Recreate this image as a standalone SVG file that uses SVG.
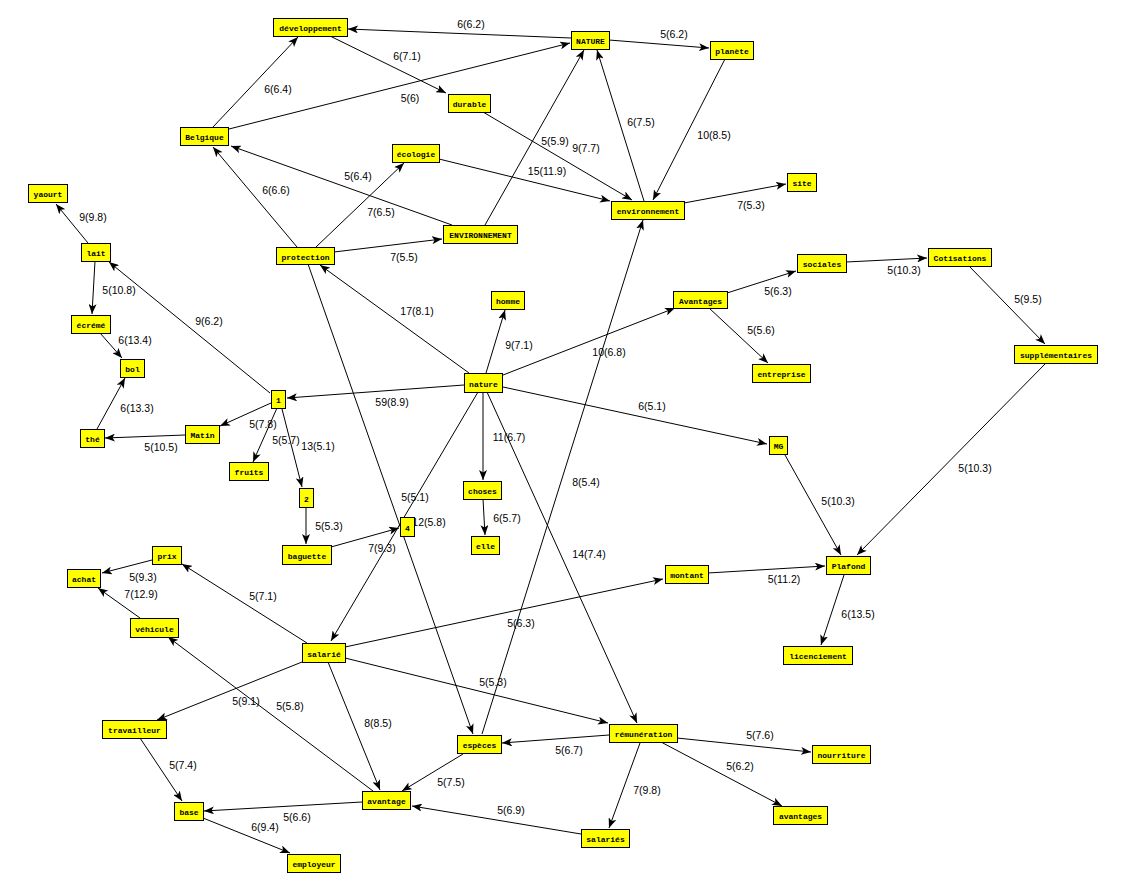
<svg xmlns="http://www.w3.org/2000/svg" width="1128" height="893" viewBox="0 0 1128 893">
<style>
.n rect{fill:#ffff00;stroke:#000;stroke-width:1}
.n text{font-family:"Liberation Mono","DejaVu Sans Mono",monospace;font-size:8px;font-weight:bold;text-anchor:middle;fill:#000}
#connectors line{stroke:#000;stroke-width:1;marker-end:url(#arr)}
#labels text{font-family:"Liberation Sans",Arial,sans-serif;font-size:10.5px;text-anchor:middle;fill:#000}
</style>
<defs>
<marker id="arr" markerUnits="userSpaceOnUse" markerWidth="10" markerHeight="8" refX="10" refY="4" orient="auto">
<path d="M0,0 L10,4 L0,8 L2.5,4 Z" fill="#000"/>
</marker>
</defs>
<rect width="1128" height="893" fill="#fff"/>
<g id="connectors">
<line x1="571" y1="38" x2="348" y2="29"/>
<line x1="330" y1="36" x2="446" y2="93"/>
<line x1="213" y1="127" x2="298" y2="37"/>
<line x1="229" y1="129" x2="570" y2="43"/>
<line x1="483" y1="112" x2="632" y2="200"/>
<line x1="485" y1="225" x2="584" y2="50"/>
<line x1="644" y1="201" x2="597" y2="50"/>
<line x1="609" y1="40" x2="709" y2="48"/>
<line x1="725" y1="59" x2="653" y2="200"/>
<line x1="439" y1="159" x2="610" y2="201"/>
<line x1="684" y1="203" x2="786" y2="184"/>
<line x1="452" y1="225" x2="231" y2="146"/>
<line x1="316" y1="247" x2="404" y2="163"/>
<line x1="297" y1="247" x2="213" y2="147"/>
<line x1="334" y1="252" x2="442" y2="239"/>
<line x1="469" y1="373" x2="320" y2="265"/>
<line x1="308" y1="264" x2="473" y2="734"/>
<line x1="486" y1="373" x2="505" y2="310"/>
<line x1="503" y1="375" x2="675" y2="308"/>
<line x1="727" y1="293" x2="796" y2="271"/>
<line x1="709" y1="308" x2="768" y2="363"/>
<line x1="846" y1="262" x2="927" y2="258"/>
<line x1="969" y1="266" x2="1045" y2="344"/>
<line x1="1046" y1="363" x2="857" y2="555"/>
<line x1="503" y1="387" x2="767" y2="444"/>
<line x1="785" y1="455" x2="841" y2="555"/>
<line x1="708" y1="573" x2="825" y2="566"/>
<line x1="844" y1="575" x2="821" y2="645"/>
<line x1="483" y1="392" x2="483" y2="480"/>
<line x1="483" y1="499" x2="485" y2="535"/>
<line x1="487" y1="392" x2="637" y2="723"/>
<line x1="482" y1="734" x2="643" y2="220"/>
<line x1="464" y1="385" x2="287" y2="398"/>
<line x1="270" y1="393" x2="109" y2="262"/>
<line x1="88" y1="243" x2="56" y2="204"/>
<line x1="95" y1="261" x2="92" y2="314"/>
<line x1="100" y1="333" x2="122" y2="358"/>
<line x1="97" y1="429" x2="125" y2="378"/>
<line x1="185" y1="435" x2="105" y2="438"/>
<line x1="271" y1="403" x2="220" y2="426"/>
<line x1="277" y1="408" x2="253" y2="462"/>
<line x1="282" y1="409" x2="302" y2="487"/>
<line x1="306" y1="507" x2="306" y2="544"/>
<line x1="331" y1="547" x2="399" y2="528"/>
<line x1="478" y1="392" x2="331" y2="641"/>
<line x1="307" y1="643" x2="182" y2="564"/>
<line x1="152" y1="560" x2="102" y2="573"/>
<line x1="140" y1="618" x2="98" y2="588"/>
<line x1="373" y1="791" x2="168" y2="637"/>
<line x1="302" y1="662" x2="157" y2="720"/>
<line x1="328" y1="662" x2="380" y2="790"/>
<line x1="345" y1="647" x2="663" y2="579"/>
<line x1="345" y1="658" x2="608" y2="723"/>
<line x1="609" y1="735" x2="502" y2="743"/>
<line x1="463" y1="754" x2="402" y2="791"/>
<line x1="581" y1="834" x2="412" y2="806"/>
<line x1="640" y1="743" x2="609" y2="828"/>
<line x1="677" y1="738" x2="811" y2="752"/>
<line x1="661" y1="742" x2="782" y2="806"/>
<line x1="362" y1="802" x2="204" y2="811"/>
<line x1="140" y1="738" x2="182" y2="801"/>
<line x1="203" y1="818" x2="290" y2="853"/>
</g>
<g id="labels">
<text x="471" y="28">6(6.2)</text>
<text x="674" y="38">5(6.2)</text>
<text x="407" y="60">6(7.1)</text>
<text x="410" y="102">5(6)</text>
<text x="278" y="93">6(6.4)</text>
<text x="641" y="126">6(7.5)</text>
<text x="714" y="139">10(8.5)</text>
<text x="586" y="152">9(7.7)</text>
<text x="555" y="145">5(5.9)</text>
<text x="547" y="175">15(11.9)</text>
<text x="751" y="209">7(5.3)</text>
<text x="404" y="261">7(5.5)</text>
<text x="358" y="180">5(6.4)</text>
<text x="381" y="216">7(6.5)</text>
<text x="276" y="194">6(6.6)</text>
<text x="93" y="221">9(9.8)</text>
<text x="119" y="294">5(10.8)</text>
<text x="209" y="325">9(6.2)</text>
<text x="135" y="344">6(13.4)</text>
<text x="137" y="412">6(13.3)</text>
<text x="263" y="428">5(7.8)</text>
<text x="286" y="444">5(5.7)</text>
<text x="318" y="450">13(5.1)</text>
<text x="161" y="451">5(10.5)</text>
<text x="392" y="406">59(8.9)</text>
<text x="329" y="530">5(5.3)</text>
<text x="382" y="552">7(9.3)</text>
<text x="417" y="315">17(8.1)</text>
<text x="519" y="349">9(7.1)</text>
<text x="609" y="356">10(6.8)</text>
<text x="652" y="410">6(5.1)</text>
<text x="509" y="441">11(6.7)</text>
<text x="586" y="486">8(5.4)</text>
<text x="415" y="501">5(5.1)</text>
<text x="429" y="526">12(5.8)</text>
<text x="507" y="522">6(5.7)</text>
<text x="589" y="558">14(7.4)</text>
<text x="778" y="295">5(6.3)</text>
<text x="904" y="274">5(10.3)</text>
<text x="761" y="334">5(5.6)</text>
<text x="1028" y="303">5(9.5)</text>
<text x="975" y="472">5(10.3)</text>
<text x="838" y="505">5(10.3)</text>
<text x="784" y="583">5(11.2)</text>
<text x="858" y="618">6(13.5)</text>
<text x="143" y="581">5(9.3)</text>
<text x="141" y="598">7(12.9)</text>
<text x="263" y="600">5(7.1)</text>
<text x="246" y="705">5(9.1)</text>
<text x="290" y="710">5(5.8)</text>
<text x="378" y="727">8(8.5)</text>
<text x="183" y="769">5(7.4)</text>
<text x="297" y="821">5(6.6)</text>
<text x="265" y="831">6(9.4)</text>
<text x="521" y="627">5(6.3)</text>
<text x="493" y="686">5(5.3)</text>
<text x="569" y="754">5(6.7)</text>
<text x="451" y="786">5(7.5)</text>
<text x="511" y="814">5(6.9)</text>
<text x="647" y="794">7(9.8)</text>
<text x="760" y="739">5(7.6)</text>
<text x="740" y="770">5(6.2)</text>
</g>
<g id="n-developpement" class="n"><rect x="273.5" y="18.5" width="74" height="18"/><text x="310.5" y="31">développement</text></g>
<g id="n-NATURE" class="n"><rect x="571.5" y="31.5" width="38" height="18"/><text x="590.5" y="44">NATURE</text></g>
<g id="n-planete" class="n"><rect x="710.5" y="41.5" width="43" height="18"/><text x="732" y="54">planète</text></g>
<g id="n-durable" class="n"><rect x="448.5" y="94.5" width="42" height="18"/><text x="469.5" y="107">durable</text></g>
<g id="n-Belgique" class="n"><rect x="180.5" y="127.5" width="48" height="18"/><text x="204.5" y="140">Belgique</text></g>
<g id="n-ecologie" class="n"><rect x="392.5" y="144.5" width="47" height="18"/><text x="416" y="157">écologie</text></g>
<g id="n-site" class="n"><rect x="787.5" y="173.5" width="29" height="18"/><text x="802" y="186">site</text></g>
<g id="n-environnement" class="n"><rect x="611.5" y="201.5" width="73" height="18"/><text x="648" y="214">environnement</text></g>
<g id="n-ENVIRONNEMENT" class="n"><rect x="443.5" y="225.5" width="74" height="18"/><text x="480.5" y="238">ENVIRONNEMENT</text></g>
<g id="n-yaourt" class="n"><rect x="28.5" y="184.5" width="39" height="18"/><text x="48" y="197">yaourt</text></g>
<g id="n-lait" class="n"><rect x="81.5" y="243.5" width="29" height="18"/><text x="96" y="256">lait</text></g>
<g id="n-protection" class="n"><rect x="276.5" y="247.5" width="58" height="17"/><text x="305.5" y="259.5">protection</text></g>
<g id="n-Cotisations" class="n"><rect x="928.5" y="248.5" width="63" height="18"/><text x="960" y="261">Cotisations</text></g>
<g id="n-sociales" class="n"><rect x="797.5" y="254.5" width="49" height="18"/><text x="822" y="267">sociales</text></g>
<g id="n-homme" class="n"><rect x="491.5" y="291.5" width="33" height="18"/><text x="508" y="304">homme</text></g>
<g id="n-Avantages" class="n"><rect x="673.5" y="291.5" width="54" height="17"/><text x="700.5" y="303.5">Avantages</text></g>
<g id="n-ecreme" class="n"><rect x="71.5" y="315.5" width="39" height="18"/><text x="91" y="328">écrémé</text></g>
<g id="n-supplementaires" class="n"><rect x="1014.5" y="345.5" width="83" height="18"/><text x="1056" y="358">supplémentaires</text></g>
<g id="n-bol" class="n"><rect x="120.5" y="359.5" width="24" height="18"/><text x="132.5" y="372">bol</text></g>
<g id="n-entreprise" class="n"><rect x="752.5" y="364.5" width="58" height="18"/><text x="781.5" y="377">entreprise</text></g>
<g id="n-nature" class="n"><rect x="464.5" y="373.5" width="38" height="19"/><text x="483.5" y="386.5">nature</text></g>
<g id="n-1" class="n"><rect x="271.5" y="390.5" width="14" height="18"/><text x="278.5" y="403">1</text></g>
<g id="n-Matin" class="n"><rect x="185.5" y="425.5" width="34" height="18"/><text x="202.5" y="438">Matin</text></g>
<g id="n-the" class="n"><rect x="80.5" y="429.5" width="24" height="18"/><text x="92.5" y="442">thé</text></g>
<g id="n-MG" class="n"><rect x="769.5" y="436.5" width="18" height="18"/><text x="778.5" y="449">MG</text></g>
<g id="n-fruits" class="n"><rect x="229.5" y="462.5" width="39" height="18"/><text x="249" y="475">fruits</text></g>
<g id="n-choses" class="n"><rect x="463.5" y="481.5" width="38" height="18"/><text x="482.5" y="494">choses</text></g>
<g id="n-2" class="n"><rect x="299.5" y="488.5" width="14" height="19"/><text x="306.5" y="501.5">2</text></g>
<g id="n-4" class="n"><rect x="400.5" y="517.5" width="14" height="19"/><text x="407.5" y="530.5">4</text></g>
<g id="n-elle" class="n"><rect x="471.5" y="536.5" width="28" height="18"/><text x="485.5" y="549">elle</text></g>
<g id="n-baguette" class="n"><rect x="282.5" y="545.5" width="49" height="19"/><text x="307" y="558.5">baguette</text></g>
<g id="n-prix" class="n"><rect x="152.5" y="546.5" width="29" height="18"/><text x="167" y="559">prix</text></g>
<g id="n-Plafond" class="n"><rect x="826.5" y="556.5" width="44" height="18"/><text x="848.5" y="569">Plafond</text></g>
<g id="n-montant" class="n"><rect x="665.5" y="565.5" width="43" height="18"/><text x="687" y="578">montant</text></g>
<g id="n-achat" class="n"><rect x="67.5" y="569.5" width="33" height="18"/><text x="84" y="582">achat</text></g>
<g id="n-vehicule" class="n"><rect x="130.5" y="618.5" width="48" height="19"/><text x="154.5" y="631.5">véhicule</text></g>
<g id="n-salarie" class="n"><rect x="302.5" y="643.5" width="43" height="19"/><text x="324" y="656.5">salarié</text></g>
<g id="n-licenciement" class="n"><rect x="783.5" y="646.5" width="69" height="18"/><text x="818" y="659">licenciement</text></g>
<g id="n-travailleur" class="n"><rect x="102.5" y="720.5" width="64" height="18"/><text x="134.5" y="733">travailleur</text></g>
<g id="n-remuneration" class="n"><rect x="609.5" y="724.5" width="68" height="18"/><text x="643.5" y="737">rémunération</text></g>
<g id="n-especes" class="n"><rect x="457.5" y="735.5" width="44" height="18"/><text x="479.5" y="748">espèces</text></g>
<g id="n-nourriture" class="n"><rect x="812.5" y="745.5" width="58" height="18"/><text x="841.5" y="758">nourriture</text></g>
<g id="n-avantage" class="n"><rect x="362.5" y="791.5" width="48" height="18"/><text x="386.5" y="804">avantage</text></g>
<g id="n-base" class="n"><rect x="174.5" y="802.5" width="29" height="18"/><text x="189" y="815">base</text></g>
<g id="n-avantages" class="n"><rect x="773.5" y="806.5" width="54" height="18"/><text x="800.5" y="819">avantages</text></g>
<g id="n-salaries" class="n"><rect x="581.5" y="829.5" width="48" height="18"/><text x="605.5" y="842">salariés</text></g>
<g id="n-employeur" class="n"><rect x="287.5" y="854.5" width="53" height="18"/><text x="314" y="867">employeur</text></g>
</svg>
